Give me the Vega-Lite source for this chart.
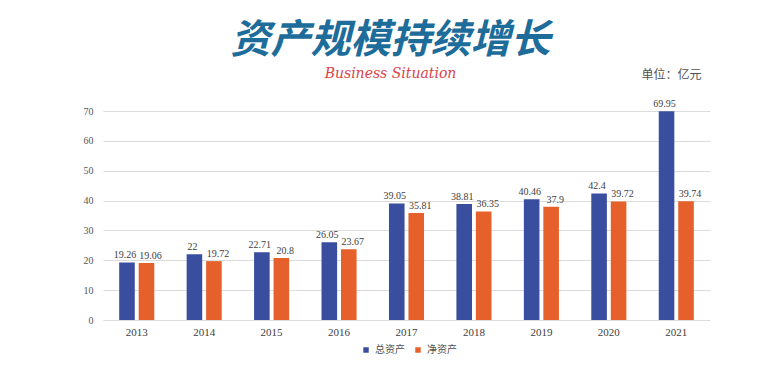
{
  "$schema": "https://vega.github.io/schema/vega-lite/v6.json",
  "autosize": "none",
  "width": 607,
  "height": 209,
  "padding": {"left": 103, "top": 111, "right": 68, "bottom": 45},
  "background": "white",
  "config": {"view": {"stroke": null}},
  "title": {
    "text": "资产规模持续增长",
    "subtitle": "Business Situation",
    "anchor": "middle",
    "dx": -16,
    "offset": -13,
    "font": "Noto Sans CJK SC",
    "fontSize": 40,
    "fontWeight": "bold",
    "fontStyle": "italic",
    "color": "#1d6c9a",
    "subtitleFont": "DejaVu Serif",
    "subtitleFontStyle": "italic",
    "subtitleFontSize": 14,
    "subtitleColor": "#d9434a",
    "subtitlePadding": 6
  },
  "data": {
    "values": [
      {"year": "2013", "series": "总资产", "value": 19.26},
      {"year": "2013", "series": "净资产", "value": 19.06},
      {"year": "2014", "series": "总资产", "value": 22},
      {"year": "2014", "series": "净资产", "value": 19.72},
      {"year": "2015", "series": "总资产", "value": 22.71},
      {"year": "2015", "series": "净资产", "value": 20.8},
      {"year": "2016", "series": "总资产", "value": 26.05},
      {"year": "2016", "series": "净资产", "value": 23.67},
      {"year": "2017", "series": "总资产", "value": 39.05},
      {"year": "2017", "series": "净资产", "value": 35.81},
      {"year": "2018", "series": "总资产", "value": 38.81},
      {"year": "2018", "series": "净资产", "value": 36.35},
      {"year": "2019", "series": "总资产", "value": 40.46},
      {"year": "2019", "series": "净资产", "value": 37.9},
      {"year": "2020", "series": "总资产", "value": 42.4},
      {"year": "2020", "series": "净资产", "value": 39.72},
      {"year": "2021", "series": "总资产", "value": 69.95},
      {"year": "2021", "series": "净资产", "value": 39.74}
    ]
  },
  "encoding": {
    "x": {
      "field": "year", "type": "nominal",
      "scale": {"paddingInner": 0.48, "paddingOuter": 0.24},
      "axis": {"title": null, "labelAngle": 0, "domain": false, "ticks": false,
               "labelFont": "Liberation Serif", "labelFontSize": 11, "labelColor": "#404040", "labelPadding": 6}
    },
    "xOffset": {"field": "series", "type": "nominal", "sort": ["总资产", "净资产"],
                "scale": {"paddingInner": 0.2, "paddingOuter": 0}},
    "y": {
      "field": "value", "type": "quantitative",
      "scale": {"domain": [0, 70]},
      "axis": {"title": "单位：亿元", "titleAngle": 0, "titleX": 538, "titleY": -30, "titleAlign": "left",
               "titleFont": "Noto Sans CJK SC", "titleFontSize": 12, "titleFontWeight": "normal", "titleColor": "#505050",
               "values": [0, 10, 20, 30, 40, 50, 60, 70], "labelOverlap": false,
               "domain": false, "ticks": false, "labelPadding": 10,
               "labelFont": "Liberation Serif", "labelFontSize": 10, "labelColor": "#555555",
               "gridColor": "#dcdcdc"}
    },
    "color": {
      "field": "series", "type": "nominal", "sort": ["总资产", "净资产"],
      "scale": {"domain": ["总资产", "净资产"], "range": ["#3a4e9f", "#e5602a"]},
      "legend": {"title": null, "orient": "none", "legendX": 258, "legendY": 234, "direction": "horizontal", "symbolType": "square",
                 "symbolSize": 30, "labelFont": "Noto Sans CJK SC", "labelFontSize": 10, "labelColor": "#505050",
                 "columnPadding": 8}
    }
  },
  "layer": [
    {"mark": {"type": "bar"}},
    {"transform": [{"filter": "datum.series === '总资产'"}],
     "mark": {"type": "text", "dy": -7, "dx": -2, "font": "Liberation Serif", "fontSize": 10, "color": "#404040"},
     "encoding": {"text": {"field": "value", "type": "quantitative"}, "color": {"value": "#404040"}}},
    {"transform": [{"filter": "datum.series === '净资产'"}],
     "mark": {"type": "text", "dy": -7, "dx": 4, "font": "Liberation Serif", "fontSize": 10, "color": "#404040"},
     "encoding": {"text": {"field": "value", "type": "quantitative"}, "color": {"value": "#404040"}}}
  ]
}
